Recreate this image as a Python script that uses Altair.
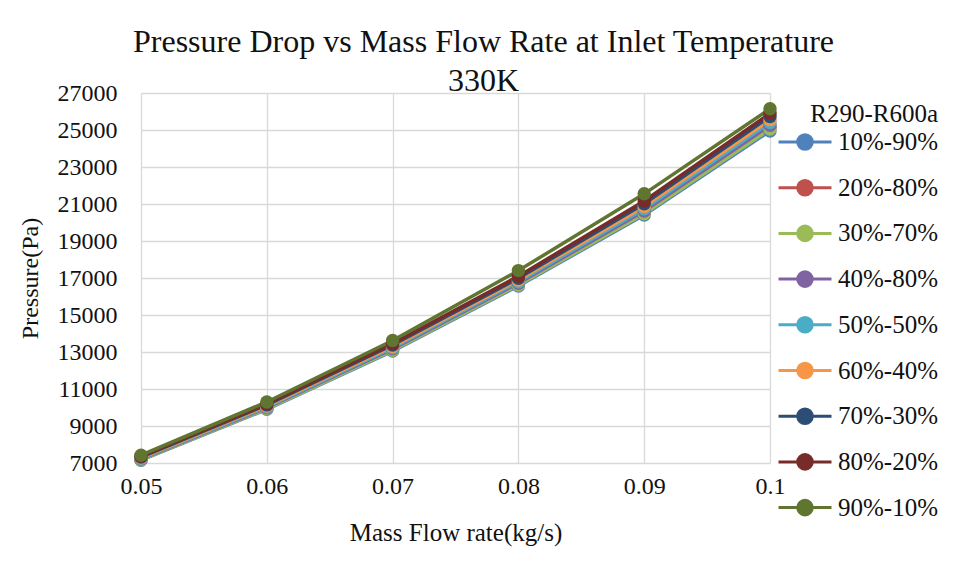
import altair as alt
import pandas as pd

flow = [0.05, 0.06, 0.07, 0.08, 0.09, 0.1]
series_names = ["10%-90%", "20%-80%", "30%-70%", "40%-80%", "50%-50%",
                "60%-40%", "70%-30%", "80%-20%", "90%-10%"]
s10 = [7150, 9900, 13050, 16570, 20400, 24950]
s20 = [7180, 9950, 13120, 16660, 20530, 25130]
s30 = [7170, 9930, 13090, 16620, 20470, 25050]
s40 = [7210, 9990, 13170, 16720, 20620, 25250]
s50 = [7240, 10030, 13230, 16800, 20740, 25400]
s60 = [7280, 10080, 13300, 16890, 20870, 25560]
s70 = [7320, 10140, 13380, 16990, 21010, 25730]
s80 = [7360, 10200, 13460, 17100, 21160, 25900]
s90 = [7420, 10300, 13620, 17400, 21550, 26150]
all_series = [s10, s20, s30, s40, s50, s60, s70, s80, s90]
colors = ["#4F81BD", "#C0504D", "#9BBB59", "#8064A2", "#4BACC6",
          "#F79646", "#2C4D75", "#772C2A", "#5F7530"]
y_ticks = [7000, 9000, 11000, 13000, 15000, 17000, 19000, 21000, 23000, 25000, 27000]

rows = []
for name, vals in zip(series_names, all_series):
    for xv, yv in zip(flow, vals):
        rows.append({"flow": xv, "pressure": yv, "mix": name})
df = pd.DataFrame(rows)

FONT = "Liberation Serif"
TXT = "#111111"
GRID = "#D9D9D9"

legend_path = "M-2,0L2,0M-0.55,0A0.55,0.55 0 1,1 0.55,0A0.55,0.55 0 1,1 -0.55,0Z"

color = alt.Color(
    "mix:N",
    scale=alt.Scale(domain=series_names, range=colors),
    sort=series_names,
    legend=alt.Legend(
        title="R290-R600a",
        orient="none",
        legendX=649,
        legendY=9,
        titleAnchor="end",
        titleFont=FONT,
        titleFontSize=25,
        titleFontWeight="normal",
        titleColor=TXT,
        titlePadding=0,
        labelFont=FONT,
        labelFontSize=25,
        labelColor=TXT,
        labelOffset=18,
        symbolType=legend_path,
        symbolSize=702,
        symbolStrokeWidth=3,
        rowPadding=16.7,
    ),
)

x = alt.X(
    "flow:Q",
    scale=alt.Scale(domain=[0.05, 0.1], nice=False, zero=False),
    axis=alt.Axis(values=flow, format="~g", title="Mass Flow rate(kg/s)",
                  titleY=69, titleBaseline="middle", titleFontSize=25,
                  labelPadding=11, labelFlush=False),
)
y = alt.Y(
    "pressure:Q",
    scale=alt.Scale(domain=[7000, 27000], nice=False, zero=False),
    axis=alt.Axis(values=y_ticks, format="d", title="Pressure(Pa)",
                  titleX=-111, titleY=185, titleBaseline="middle", labelPadding=24),
)

base = alt.Chart(df).encode(x=x, y=y, color=color)
lines = base.mark_line(strokeWidth=3.5)
pts = base.mark_point(filled=True, size=180, opacity=1)

chart = (
    alt.layer(lines, pts)
    .properties(
        width=629,
        height=370,
        title=alt.Title(
            ["Pressure Drop vs Mass Flow Rate at Inlet Temperature", "330K"],
            font=FONT, fontSize=32, fontWeight="normal", color=TXT,
            lineHeight=39, anchor="middle", dx=28, dy=17, offset=0,
        ),
        autosize=alt.AutoSizeParams(type="none"),
        padding={"left": 141, "top": 93, "right": 186, "bottom": 115},
        background="white",
    )
    .configure_view(stroke=None)
    .configure_axis(
        grid=True, gridColor=GRID, gridWidth=1.3, domain=False, ticks=False, tickSize=0,
        labelFont=FONT, labelFontSize=24, labelColor=TXT,
        titleFont=FONT, titleFontSize=24, titleFontWeight="normal", titleColor=TXT,
    )
)

chart.save("out.html", embed_options={"renderer": "svg", "actions": False})
